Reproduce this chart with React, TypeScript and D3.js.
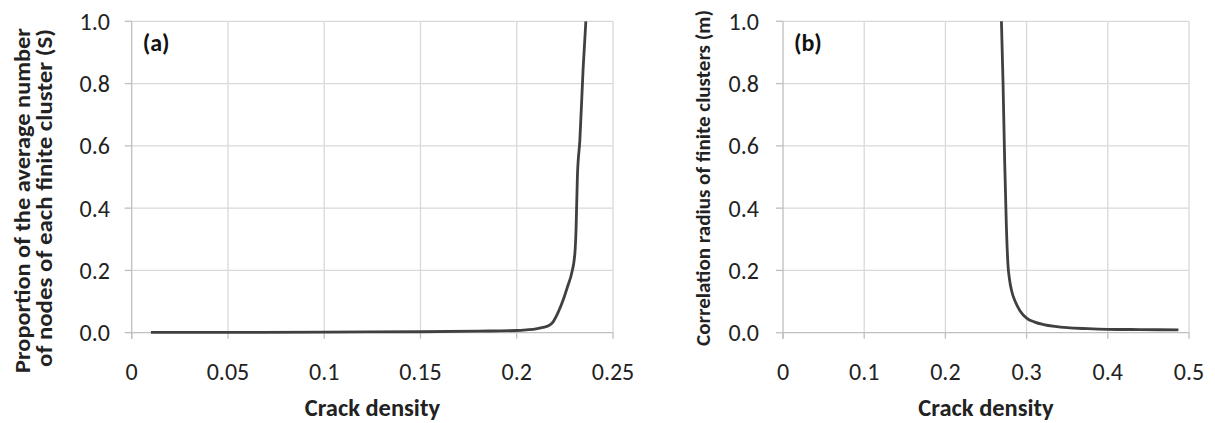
import React from "react";
import * as d3 from "d3";

// Panel (a): crack density vs proportion of average nodes of finite cluster (S)
const densityA = [0.01, 0.05, 0.1, 0.15, 0.18, 0.2, 0.205, 0.21, 0.2135, 0.2165, 0.2189, 0.2215, 0.2241, 0.2265, 0.2285, 0.2302, 0.2308, 0.2315, 0.2328, 0.2345, 0.2359];
const valuesA = [0.001, 0.001, 0.002, 0.003, 0.005, 0.007, 0.009, 0.012, 0.017, 0.022, 0.035, 0.065, 0.105, 0.15, 0.19, 0.255, 0.33, 0.5, 0.62, 0.85, 1.0];

// Panel (b): crack density vs correlation radius of finite clusters (m)
const densityB = [0.269, 0.271, 0.273, 0.275, 0.277, 0.279, 0.282, 0.286, 0.292, 0.3, 0.31, 0.321, 0.335, 0.35, 0.375, 0.4, 0.44, 0.487];
const valuesB = [1.0, 0.8, 0.55, 0.35, 0.22, 0.17, 0.13, 0.1, 0.07, 0.047, 0.034, 0.026, 0.02, 0.016, 0.013, 0.011, 0.01, 0.009];

const xTicksA = [0, 0.05, 0.1, 0.15, 0.2, 0.25];
const xTicksB = [0, 0.1, 0.2, 0.3, 0.4, 0.5];
const yTicks = [0, 0.2, 0.4, 0.6, 0.8, 1.0];

const FONT = "Carlito, Lato, 'Open Sans', sans-serif";
const GRID = "#d9d9d9";
const AXIS = "#bfbfbf";
const LINE = "#404040";
const TICK_FS = 24;
const TITLE_FS = 24.5;

type PanelProps = {
  left: number;
  right: number;
  xMax: number;
  xTicks: number[];
  xs: number[];
  ys: number[];
  label: string;
  yLabelLines: string[];
  yLabelX: number[];
  yLabelY: number[];
  yLabelLen: number[];
  yLabelFs: number;
  tickLabelRight: number;
  fmt: (v: number) => string;
};

const TOP = 21.3;
const BOTTOM = 332.7;

function Panel(p: PanelProps) {
  const x = d3.scaleLinear().domain([0, p.xMax]).range([p.left, p.right]);
  const y = d3.scaleLinear().domain([0, 1]).range([BOTTOM, TOP]);
  const pts: [number, number][] = p.xs.map((v, i) => [v, p.ys[i]]);
  const line = d3
    .line<[number, number]>()
    .x((d) => x(d[0]))
    .y((d) => y(d[1]))
    .curve(d3.curveMonotoneX);
  return (
    <g>
      {p.xTicks.map((t) => (
        <g key={"x" + t}>
          {t > 0 && <line x1={x(t)} x2={x(t)} y1={TOP} y2={BOTTOM} stroke={GRID} strokeWidth={1.3} />}
          <line x1={x(t)} x2={x(t)} y1={BOTTOM} y2={BOTTOM + 6} stroke={AXIS} strokeWidth={1.3} />
          <text x={x(t)} y={372} dy="0.35em" textAnchor="middle" fontSize={TICK_FS} fontFamily={FONT} fill="#222">
            {p.fmt(t)}
          </text>
        </g>
      ))}
      {yTicks.map((t) => (
        <g key={"y" + t}>
          <line x1={p.left} x2={p.right} y1={y(t)} y2={y(t)} stroke={t === 0 ? AXIS : GRID} strokeWidth={1.3} />
          <line x1={p.left - 7} x2={p.left} y1={y(t)} y2={y(t)} stroke={AXIS} strokeWidth={1.3} />
          <text x={p.tickLabelRight} y={y(t)} dy="0.35em" textAnchor="end" fontSize={TICK_FS} fontFamily={FONT} fill="#222">
            {t.toFixed(1)}
          </text>
        </g>
      ))}
      <line x1={p.left} x2={p.left} y1={TOP} y2={BOTTOM + 6} stroke={AXIS} strokeWidth={1.3} />
      <path d={line(pts) || ""} fill="none" stroke={LINE} strokeWidth={2.8} strokeLinejoin="round" />
      <text x={p.left + 11} y={51} fontSize={24} fontWeight="bold" fontFamily={FONT} fill="#111">
        {p.label}
      </text>
      <text x={(p.left + p.right) / 2} y={416} textAnchor="middle" fontSize={TITLE_FS} fontWeight="bold" fontFamily={FONT} fill="#222">
        Crack density
      </text>
      {p.yLabelLines.map((s, i) => (
        <text
          key={s}
          transform={`translate(${p.yLabelX[i]},${p.yLabelY[i]}) rotate(-90)`}
          textAnchor="middle"
          dy="0.35em"
          fontSize={p.yLabelFs}
          fontWeight="bold"
          fontFamily={FONT}
          fill="#222"
          textLength={p.yLabelLen[i]}
          lengthAdjust="spacingAndGlyphs"
        >
          {s}
        </text>
      ))}
    </g>
  );
}

export default function App() {
  return (
    <svg width={1215} height={423} style={{ position: "absolute", left: 0, top: 0, background: "#fff" }}>
      <rect width={1215} height={423} fill="#fff" />
      <Panel
        left={131.7}
        right={613}
        xMax={0.25}
        xTicks={xTicksA}
        xs={densityA}
        ys={valuesA}
        label="(a)"
        yLabelLines={["Proportion of the average number", "of nodes of each finite cluster (S)"]}
        yLabelX={[22, 44]}
        yLabelY={[200.5, 198]}
        yLabelLen={[345, 338]}
        yLabelFs={22}
        tickLabelRight={110}
        fmt={(v) => String(v)}
      />
      <Panel
        left={783}
        right={1189}
        xMax={0.5}
        xTicks={xTicksB}
        xs={densityB}
        ys={valuesB}
        label="(b)"
        yLabelLines={["Correlation radius of finite clusters (m)"]}
        yLabelX={[703]}
        yLabelY={[178]}
        yLabelLen={[336]}
        yLabelFs={21}
        tickLabelRight={759}
        fmt={(v) => String(v)}
      />
    </svg>
  );
}
